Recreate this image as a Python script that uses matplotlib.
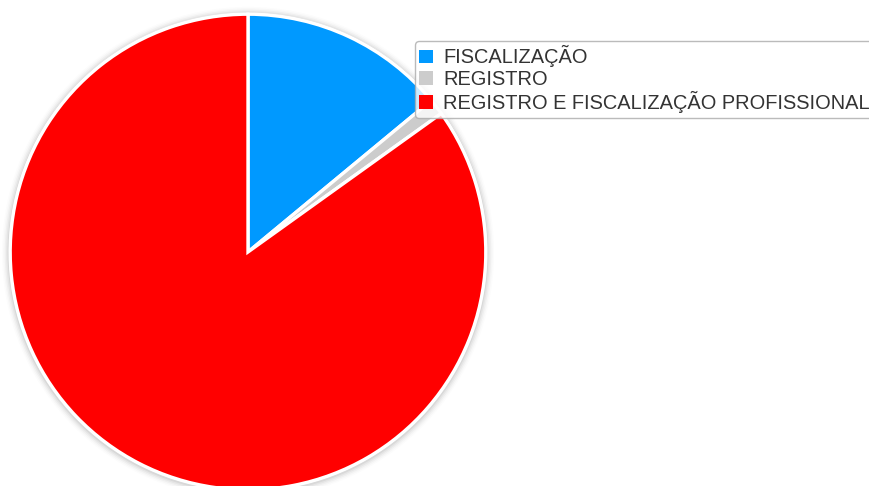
import matplotlib
matplotlib.use("Agg")
import matplotlib.pyplot as plt
from matplotlib.patches import Circle

# share of each category
categorias = ["FISCALIZAÇÃO", "REGISTRO", "REGISTRO E FISCALIZAÇÃO PROFISSIONAL"]
valores = [14.0, 1.1, 84.9]
cores = ["#0099ff", "#cccccc", "#ff0000"]

plt.rcParams["font.family"] = ["Liberation Sans", "DejaVu Sans"]

W, H = 870, 486
fig = plt.figure(figsize=(W / 100, H / 100), dpi=100)

# pie centre and radius in pixels
cx, cy, r = 248, 252, 239
ax = fig.add_axes([(cx - r) / W, (H - cy - r) / H, 2 * r / W, 2 * r / H])

wedges, _ = ax.pie(valores, colors=cores, startangle=90, counterclock=False, radius=0.995,
                   wedgeprops=dict(edgecolor="white", linewidth=2.4), normalize=True)
for w in wedges:
    w.set_clip_on(False)
    w.set_zorder(2)

# soft shadow around the pie
for k, a in enumerate([0.05, 0.04, 0.03, 0.02, 0.01]):
    ax.add_patch(Circle((0.0, -0.004), 1.0 + 0.006 * (k + 1), color="#000000",
                        alpha=a, lw=0, clip_on=False, zorder=0))
ax.add_patch(Circle((0, 0), 1.0, facecolor="white", edgecolor="white", lw=0, zorder=1,
                    clip_on=False))

ax.set_xlim(-1, 1)
ax.set_ylim(-1, 1)
ax.axis("off")

leg = fig.legend(wedges, categorias, loc="upper left",
                 bbox_to_anchor=(415 / W, 1 - 41 / H), bbox_transform=fig.transFigure,
                 fontsize=14.4, frameon=True, fancybox=True, borderpad=0.22,
                 labelspacing=0.12, handlelength=0.68, handleheight=0.68,
                 handletextpad=0.5, borderaxespad=0)
leg.get_frame().set_edgecolor("#aaaaaa")
leg.get_frame().set_linewidth(1.0)
for t in leg.get_texts():
    t.set_color("#333333")
for h in leg.legend_handles:
    h.set_linewidth(0)

fig.savefig("out.png", dpi=100)
